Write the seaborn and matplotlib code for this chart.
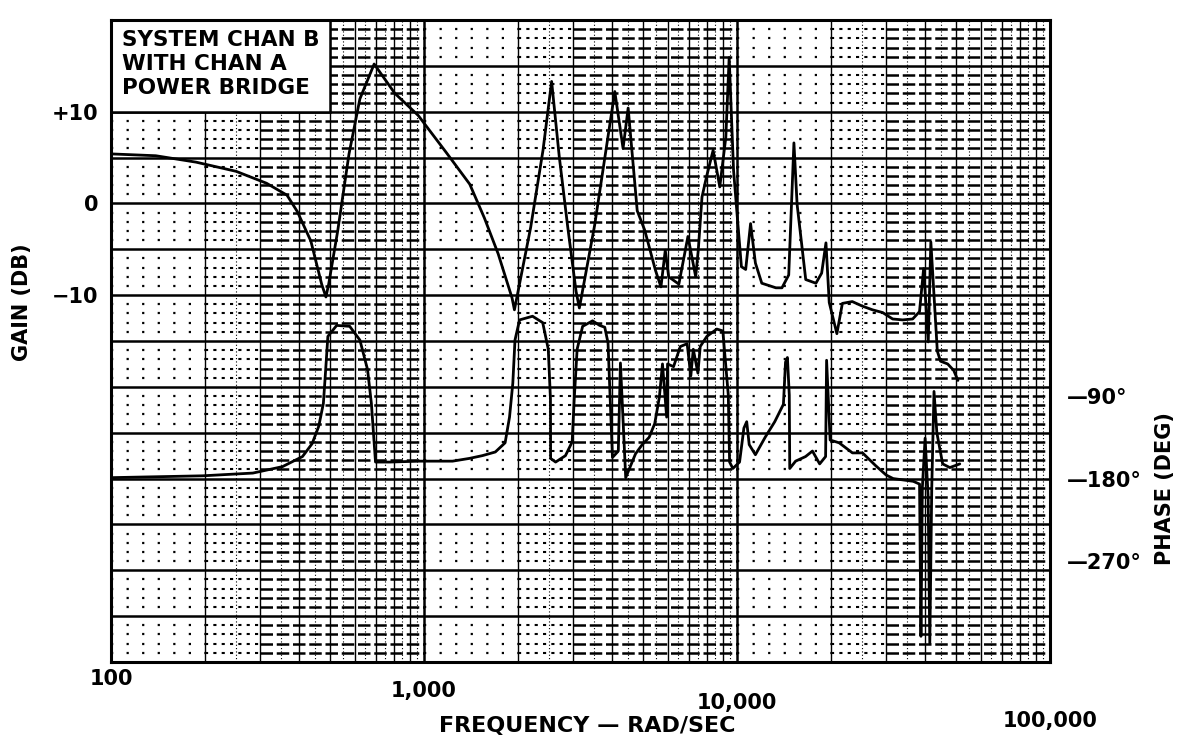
import matplotlib
matplotlib.use("Agg")
import matplotlib.pyplot as plt
from matplotlib.patches import Rectangle
import seaborn as sns

# gain trace (rad/sec, dB)
gain_freq = [100, 139, 187, 251, 314, 365, 394, 435, 471, 486, 496, 530, 576, 624, 693,
             807, 958, 1175, 1400, 1560, 1726, 1911, 1945, 2192, 2400, 2557, 2705, 2877,
             3061, 3136, 3508, 4070, 4325, 4490, 4800, 5070, 5490, 5715, 5900, 6050, 6520,
             6970, 7380, 7520, 7730, 7990, 8390, 8810, 9210, 9440, 9750, 10040, 10330,
             10660, 11050, 11450, 12000, 13310, 13920, 14630, 15200, 15560, 16580, 17870,
             18640, 19240, 19710, 20850, 21710, 23350, 25160, 27100, 29200, 31430, 33830,
             36410, 38290, 39470, 40830, 41620, 43650, 44680, 47100, 49240, 50800]
gain_db = [5.4, 5.2, 4.5, 3.5, 2.2, 0.9, -0.9, -4.1, -8.8, -10.2, -8.8, -3.0, 5.4, 11.4, 15.2,
           12.0, 9.6, 5.6, 2.1, -1.6, -5.5, -10.3, -11.6, -2.6, 5.8, 13.3, 5.1, -2.5,
           -9.6, -11.4, -2.4, 12.2, 6.0, 10.4, -0.8, -2.9, -7.3, -9.1, -5.1, -8.0, -8.8,
           -3.6, -8.0, -5.1, 0.7, 2.9, 5.8, 1.8, 7.2, 15.9, 3.6, -1.8, -6.9,
           -7.2, -2.2, -6.5, -8.7, -9.2, -9.2, -7.8, 6.6, -0.1, -8.3, -8.7,
           -7.6, -4.3, -10.8, -14.2, -10.9, -10.7, -11.2, -11.6, -11.9, -12.6, -12.7,
           -12.6, -11.8, -7.1, -15.1, -4.2, -16.1, -17.2, -17.5, -18.2, -19.3]

# phase trace (rad/sec, degrees)
phase_freq = [100, 196, 284, 353, 409, 439, 461, 477, 485, 493, 526, 579, 624, 660, 679,
              693, 700, 776, 968, 1234, 1397, 1536, 1690, 1816, 1876, 1922, 1953, 2020,
              2222, 2395, 2495, 2535, 2538, 2633, 2831, 2974, 3020, 3085, 3212, 3456, 3641,
              3780, 3872, 4000, 4176, 4242, 4410, 4740, 4980, 5240, 5460, 5650, 5780, 5960,
              6000, 6270, 6590, 6930, 7120, 7250, 7500, 7630, 8010, 8620, 9010, 9380, 9470,
              9700, 10190, 10520, 10740, 10940, 11450, 12300, 13200, 14070, 14290, 14490,
              14690, 14740, 15390, 16560, 17420, 18370, 19190, 19330, 19840, 21200, 23380,
              25180, 27750, 29920, 31540, 36570, 38300, 38700, 39100, 39900, 40800, 41300,
              41900, 42600, 43500, 45400, 47860, 51500]
phase_deg = [-179, -177, -174, -167, -156, -142, -123, -98, -62, -25, -13, -14, -29, -61, -98,
             -141, -162, -162, -161, -161, -158, -155, -151, -141, -113, -76, -29, -7,
             -3, -10, -39, -93, -158, -162, -155, -140, -93, -39, -14, -8, -13,
             -15, -32, -157, -150, -54, -179, -153, -143, -135, -120, -91, -55, -113,
             -55, -58, -36, -33, -68, -39, -65, -36, -25, -17, -19, -89, -162,
             -169, -162, -125, -118, -143, -154, -135, -118, -99, -53, -48,
             -89, -169, -161, -156, -150, -164, -156, -51, -138, -141, -152,
             -152, -166, -176, -180, -183, -186, -352, -190, -136, -200, -360,
             -190, -85, -130, -164, -168, -164]

gain_ticks = [10, 0, -10]
gain_tick_labels = ["+10", "0", "\u221210"]
phase_ticks = [-90, -180, -270]
phase_tick_labels = ["\u201490\u00b0", "\u2014180\u00b0", "\u2014270\u00b0"]
freq_ticks = [100, 1000, 10000, 100000]
freq_tick_labels = ["100", "1,000", "10,000", "100,000"]
box_text = "SYSTEM CHAN B\nWITH CHAN A\nPOWER BRIDGE"

sns.set_style("white")
plt.rcParams["font.family"] = ["DejaVu Sans"]
plt.rcParams["font.weight"] = "bold"
for key in ("text.color", "axes.labelcolor", "xtick.color", "ytick.color"):
    plt.rcParams[key] = "black"

fig = plt.figure(figsize=(11.87, 7.43), dpi=100)
ax = fig.add_axes([111 / 1187, 1 - 662 / 743, 939 / 1187, 642 / 743])
ax.set_xscale("log")
ax.set_xlim(100, 1e5)
ax.set_ylim(-50, 20)

# graph paper: dotted in the sparse part of each decade, heavy bars in the dense part
minor_db = [v for v in range(-49, 20) if v % 5 != 0]
major_db = list(range(-45, 20, 5))
for d in (100, 1000, 10000):
    ax.hlines(minor_db, d, 2 * d, colors="k", lw=1.6, linestyles=(0, (1, 6)), zorder=1)
    ax.hlines(minor_db, 2 * d, 3 * d, colors="k", lw=1.5, linestyles=(0, (1.5, 2.5)), zorder=1)
    ax.hlines(minor_db, 3 * d, 10 * d, colors="k", lw=1.8, linestyles=(0, (5, 1.5)), zorder=1)
    ax.vlines([m * d for m in range(2, 10)], -50, 20, colors="k", lw=1.0, zorder=1)
    ax.vlines([(m + 0.5) * d for m in range(2, 10)], -50, 20, colors="k", lw=0.8,
              linestyles=(0, (1, 2)), zorder=1)
ax.hlines(major_db, 100, 1e5, colors="k", lw=1.8, zorder=1)
ax.vlines([1000, 10000], -50, 20, colors="k", lw=1.8, zorder=1)

ax.add_patch(Rectangle((100, 10), 400, 10, facecolor="white", edgecolor="black", lw=1.8, zorder=2))
ax.text(0.012, 0.985, box_text, transform=ax.transAxes, ha="left", va="top",
        fontsize=15.5, fontweight="bold", linespacing=1.25, zorder=3)

sns.lineplot(x=gain_freq, y=gain_db, sort=False, estimator=None, color="black", lw=2.0,
             ax=ax, zorder=4)

ax2 = ax.twinx()
ax2.set_ylim(-380, 320)
sns.lineplot(x=phase_freq, y=phase_deg, sort=False, estimator=None, color="black", lw=2.0,
             ax=ax2, zorder=4)
ax.set_xlim(100, 1e5)

ax.set_yticks(gain_ticks)
ax.set_yticklabels(gain_tick_labels)
ax2.set_yticks(phase_ticks)
ax2.set_yticklabels(phase_tick_labels)
ax.set_xticks(freq_ticks)
ax.set_xticklabels(freq_tick_labels)
ax.xaxis.set_minor_locator(matplotlib.ticker.NullLocator())
ax.tick_params(axis="both", length=0, labelsize=15)
ax.tick_params(axis="y", pad=9)
ax2.tick_params(axis="y", length=0, labelsize=15, pad=12)
# the scanned page is slightly skewed, so the frequency labels step downward
for tick, pad in zip(ax.xaxis.get_major_ticks(), [5, 14, 22, 35]):
    tick.set_pad(pad)

ax.set_ylabel("GAIN (DB)", fontsize=15, fontweight="bold")
ax.yaxis.set_label_coords(-0.084, 0.56)
ax2.set_ylabel("PHASE (DEG)", fontsize=15, fontweight="bold")
ax2.yaxis.set_label_coords(1.112, 0.27)
ax.set_xlabel("FREQUENCY \u2014 RAD/SEC", fontsize=16, fontweight="bold")
ax.xaxis.set_label_coords(0.507, -0.084)

for s in ax.spines.values():
    s.set_linewidth(2.2)
    s.set_color("black")
for s in ax2.spines.values():
    s.set_visible(False)

fig.savefig("out.png", dpi=100)
